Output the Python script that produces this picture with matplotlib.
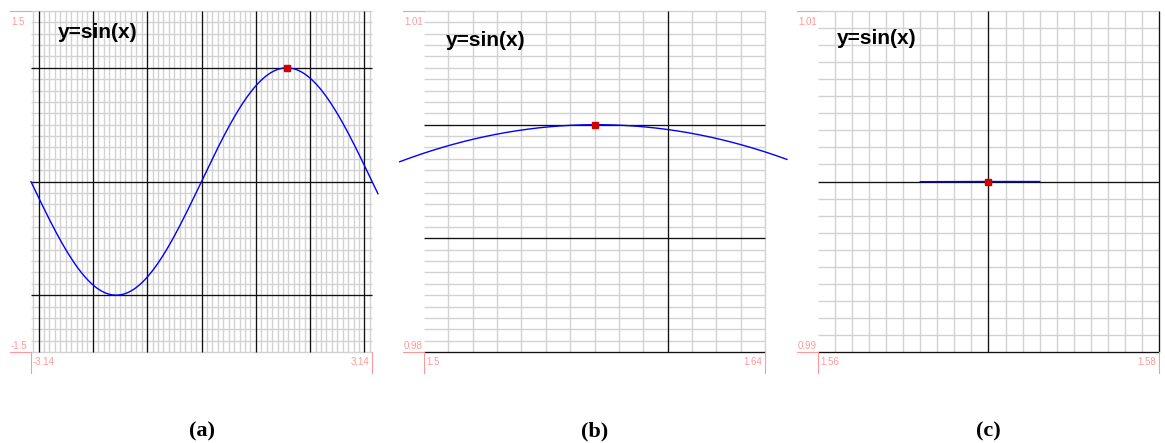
import numpy as np
import matplotlib
matplotlib.use("Agg")
import matplotlib.pyplot as plt

# three zoom levels of the same curve
panel_tags = ["(a)", "(b)", "(c)"]
func_label = "y=sin(x)"
x_lims = [(-3.14, 3.14), (1.5, 1.64), (1.56, 1.58)]
y_lims = [(-1.5, 1.5), (0.98, 1.01), (0.99, 1.01)]
x_tick_labels = [("-3.14", "3.14"), ("1.5", "1.64"), ("1.56", "1.58")]
y_tick_labels = [("-1.5", "1.5"), ("0.98", "1.01"), ("0.99", "1.01")]
major_steps = [(1.0, 1.0), (0.1, 0.01), (0.01, 0.01)]   # (x, y)
minor_steps = [(0.1, 0.1), (0.01, 0.001), (0.001, 0.001)]
curve_spans = [(-3.14, 3.25), (1.490, 1.649), (1.566, 1.573)]
peak = (1.57, 1.0)

W, H = 1165, 443
SIZE = 341
lefts = [31, 424, 818]
TOP = 11
title_offsets = [(27, -21), (22, -29), (19, -28)]

PINK = "#ff9999"
SANS = "Liberation Sans"


def grid_pos(lo, hi, step):
    k = np.arange(np.ceil(lo / step - 1e-6), np.floor(hi / step + 1e-6) + 1)
    return np.round(k * step, 6)


fig = plt.figure(figsize=(W / 100, H / 100), dpi=100)

for i in range(3):
    L = lefts[i]
    ax = fig.add_axes([L / W, 1 - (TOP + SIZE) / H, SIZE / W, SIZE / H])
    x0, x1 = x_lims[i]
    y0, y1 = y_lims[i]
    ax.set_xlim(x0, x1)
    ax.set_ylim(y0, y1)
    ax.set_xticks([])
    ax.set_yticks([])
    for s in ax.spines.values():
        s.set_visible(False)

    # grid: first value on the left and last on the top are skipped
    xs_major = grid_pos(x0, x1, major_steps[i][0])
    xs_major = xs_major[xs_major > x0 + 1e-9]
    ys_major = grid_pos(y0, y1, major_steps[i][1])
    ys_major = ys_major[ys_major < y1 - 1e-9]
    xs_minor = grid_pos(x0, x1, minor_steps[i][0])
    xs_minor = xs_minor[xs_minor > x0 + 1e-9]
    ys_minor = grid_pos(y0, y1, minor_steps[i][1])
    xs_minor = xs_minor[~np.isin(xs_minor, xs_major)]
    ys_minor = ys_minor[~np.isin(ys_minor, ys_major)]
    ax.vlines(xs_minor, y0, y1, color="#d2d2d2", lw=1.0, zorder=1, clip_on=False)
    ax.hlines(ys_minor, x0, x1, color="#d2d2d2", lw=1.0, zorder=1, clip_on=False)
    ax.vlines(xs_major, y0, y1, color="#111111", lw=0.95, zorder=1.5, clip_on=False)
    ax.hlines(ys_major, x0, x1, color="#111111", lw=0.95, zorder=1.5, clip_on=False)

    # the curve
    xs = np.linspace(curve_spans[i][0], curve_spans[i][1], 400)
    ax.plot(xs, np.sin(xs), color="#0000ff", lw=1.0, clip_on=False, zorder=3)
    ax.plot([peak[0]], [peak[1]], marker="s", ms=4.8, color="#d00000",
            mec="#d00000", clip_on=False, zorder=4)

    # pink range markers outside the plot
    p = 21 / SIZE
    ax.plot([-p, 0], [1, 1], color=PINK, lw=0.8, transform=ax.transAxes, clip_on=False)
    ax.plot([-p, 0], [0, 0], color=PINK, lw=0.8, transform=ax.transAxes, clip_on=False)
    ax.plot([0, 0], [0, -p], color=PINK, lw=0.8, transform=ax.transAxes, clip_on=False)
    ax.plot([1, 1], [0, -p], color=PINK, lw=0.8, transform=ax.transAxes, clip_on=False)

    kw = dict(xycoords="axes fraction", textcoords="offset pixels",
              color=PINK, fontsize=7, family=SANS)
    ax.annotate(y_tick_labels[i][1], xy=(0, 1), xytext=(-20, -11),
                ha="left", va="center", **kw)
    ax.annotate(y_tick_labels[i][0], xy=(0, 0), xytext=(-20, 1),
                ha="left", va="bottom", **kw)
    ax.annotate(x_tick_labels[i][0], xy=(0, 0), xytext=(2, -10),
                ha="left", va="center", **kw)
    ax.annotate(x_tick_labels[i][1], xy=(1, 0), xytext=(-3, -10),
                ha="right", va="center", **kw)

    ax.annotate(func_label, xy=(0, 1), xycoords="axes fraction",
                xytext=title_offsets[i], textcoords="offset pixels",
                ha="left", va="center", fontsize=15, fontweight="bold",
                family=SANS, color="black", zorder=5)

    fig.text((L + SIZE / 2) / W, 1 - 431 / H, panel_tags[i], ha="center", va="center",
             fontsize=16, fontweight="bold", family="Liberation Serif")

fig.savefig("out.png", dpi=100, facecolor="white")
